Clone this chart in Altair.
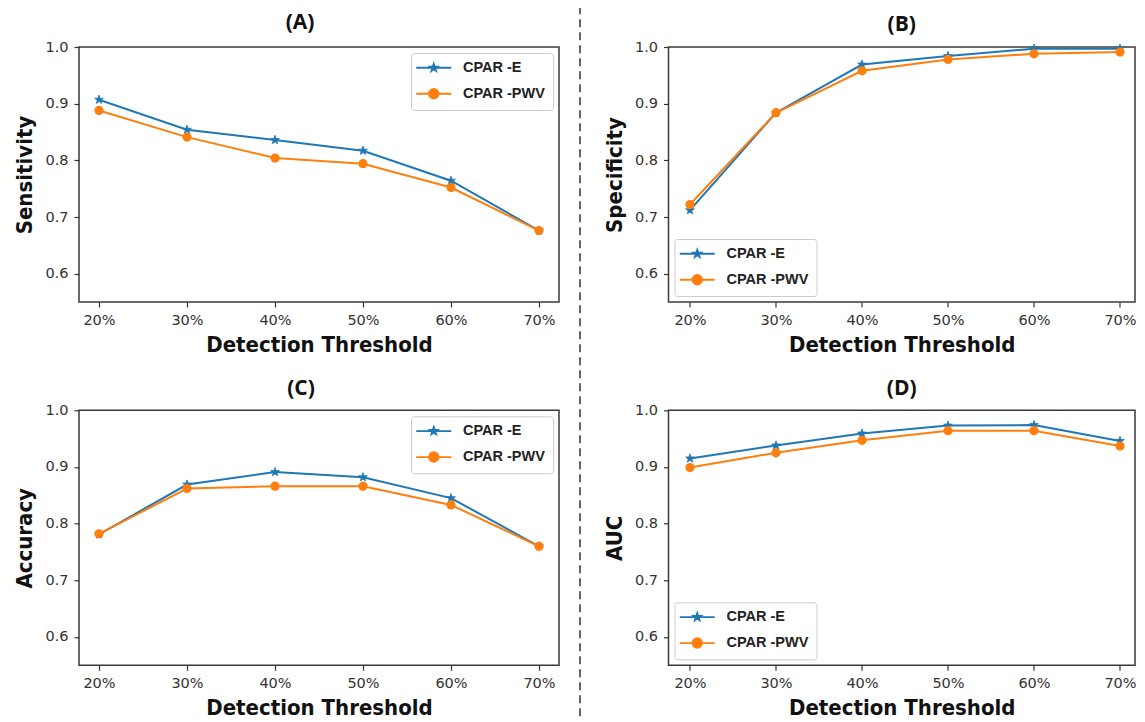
import altair as alt
import pandas as pd

THRESHOLDS = ["20%", "30%", "40%", "50%", "60%", "70%"]
SERIES = ["CPAR -E", "CPAR -PWV"]
COLORS = ["#1f77b4", "#ff7f0e"]

SENS_E = [0.907, 0.854, 0.836, 0.817, 0.764, 0.676]
SENS_PWV = [0.888, 0.841, 0.804, 0.794, 0.752, 0.676]
SPEC_E = [0.712, 0.884, 0.969, 0.984, 0.997, 0.997]
SPEC_PWV = [0.722, 0.884, 0.958, 0.978, 0.988, 0.991]
ACC_E = [0.781, 0.869, 0.891, 0.882, 0.845, 0.760]
ACC_PWV = [0.782, 0.862, 0.866, 0.866, 0.833, 0.760]
AUC_E = [0.915, 0.938, 0.959, 0.973, 0.974, 0.946]
AUC_PWV = [0.899, 0.925, 0.947, 0.964, 0.964, 0.937]

Y_TICKS = [0.6, 0.7, 0.8, 0.9, 1.0]

STAR = ("M0,-1L0.235,-0.324L0.951,-0.309L0.380,0.124L0.588,0.809L0,0.4"
        "L-0.588,0.809L-0.380,0.124L-0.951,-0.309L-0.235,-0.324Z")


def star_path(s):
    pts = [(0, -1), (0.235, -0.324), (0.951, -0.309), (0.380, 0.124), (0.588, 0.809),
           (0, 0.4), (-0.588, 0.809), (-0.380, 0.124), (-0.951, -0.309), (-0.235, -0.324)]
    return "M" + "L".join(f"{x*s:.3f},{y*s:.3f}" for x, y in pts) + "Z"


LEG_STAR = "M-2.92,0L2.92,0" + star_path(0.66)
r = 0.8
LEG_CIRC = f"M-2.92,0L2.92,0M{r},0A{r},{r} 0 1,1 {-r},0A{r},{r} 0 1,1 {r},0Z"

TICK_FONT = "DejaVu Sans"
TITLE_FONT = "DejaVu Sans Condensed"
LEG_FONT = "Liberation Sans"

H = 255


def panel(title, ylabel, e_vals, p_vals, orient, dx, width, xpad, xalign,
          title_offset, with_rule=False):
    df = pd.DataFrame({
        "threshold": THRESHOLDS * 2,
        "series": [SERIES[0]] * 6 + [SERIES[1]] * 6,
        "value": e_vals + p_vals,
    })
    base = alt.Chart(df)
    x = alt.X("threshold:O", sort=THRESHOLDS,
              scale=alt.Scale(type="point", padding=xpad, align=xalign),
              axis=alt.Axis(title="Detection Threshold", labelAngle=0))
    y = alt.Y("value:Q", scale=alt.Scale(domain=[0.55, 1.0], nice=False, zero=False),
              axis=alt.Axis(title=ylabel, values=Y_TICKS, format=".1f"))
    layers = []
    if with_rule:
        layers.append(alt.Chart(pd.DataFrame({"k": [0]})).mark_rule(
            color="#333333", strokeWidth=1.5, strokeDash=[8, 5]).encode(
            x=alt.value(501), y=alt.value(-40.8), y2=alt.value(674)))
    e = base.transform_filter(alt.datum.series == SERIES[0])
    p = base.transform_filter(alt.datum.series == SERIES[1])
    layers.append(e.mark_line(color=COLORS[0], strokeWidth=2).encode(x=x, y=y))
    layers.append(e.mark_point(shape=STAR, filled=True, size=85, color=COLORS[0],
                               stroke=COLORS[0], strokeWidth=0.8, opacity=1).encode(x=x, y=y))
    layers.append(p.mark_line(color=COLORS[1], strokeWidth=2).encode(x=x, y=y))
    layers.append(p.mark_circle(size=85, color=COLORS[1], opacity=1).encode(x=x, y=y))

    leg = alt.Legend(title=None, orient=orient, offset=6, fillColor="white",
                     strokeColor="#cccccc", cornerRadius=3, padding=7.5, rowPadding=9,
                     labelFont=LEG_FONT, labelFontSize=14.5, labelColor="#222222",
                     labelFontWeight="bold", symbolStrokeWidth=1.8, labelOffset=22,
                     symbolOffset=8, symbolSize=144)
    layers.append(base.transform_filter("false").mark_point(filled=True, size=144, opacity=1).encode(
        x=x, y=y,
        fill=alt.Fill("series:N", scale=alt.Scale(domain=SERIES, range=COLORS), legend=leg),
        stroke=alt.Stroke("series:N", scale=alt.Scale(domain=SERIES, range=COLORS), legend=leg),
        shape=alt.Shape("series:N", scale=alt.Scale(domain=SERIES, range=[LEG_STAR, LEG_CIRC]), legend=leg),
    ))
    return alt.layer(*layers).properties(
        width=width, height=H,
        title=alt.TitleParams(title, font="Open Sans", fontSize=21, fontWeight="bold",
                              color="#111111", anchor="middle", dx=dx, offset=title_offset),
    )


A = panel("(A)", "Sensitivity", SENS_E, SENS_PWV, "top-right", -19, 480, 0.2273, 0.5, -27.7, with_rule=True)
B = panel("(B)", "Specificity", SPEC_E, SPEC_PWV, "bottom-left", 0, 466.5, 0.2122, 0.589, 3.8)
C = panel("(C)", "Accuracy", ACC_E, ACC_PWV, "top-right", -18, 480, 0.2273, 0.5, 3.8)
D = panel("(D)", "AUC", AUC_E, AUC_PWV, "bottom-left", 0, 466.5, 0.2122, 0.589, 3.8)

ind = dict(fill="independent", stroke="independent", shape="independent")
chart = alt.concat(
    A, B, C, D, columns=2, spacing={"row": 108.3, "column": 109.5}, bounds="flush"
).resolve_scale(**ind).resolve_legend(**ind).properties(
    padding={"left": 5, "top": -4, "right": 0, "bottom": 0},
    background="white",
).configure_view(
    stroke="#3a3a3a", strokeWidth=1.5
).configure_axis(
    domain=False, grid=False, tickColor="#333333", tickSize=5, tickWidth=1.2,
    labelFont=TICK_FONT, labelFontSize=14.5, labelColor="#333333",
    titleFont=TITLE_FONT, titleFontSize=22, titleFontWeight="bold", titleColor="#111111",
).configure_axisX(
    labelPadding=6.5, titlePadding=7.5
).configure_axisY(
    labelPadding=6, titlePadding=8
)

chart.save("out.html", embed_options={"renderer": "svg", "actions": False})
